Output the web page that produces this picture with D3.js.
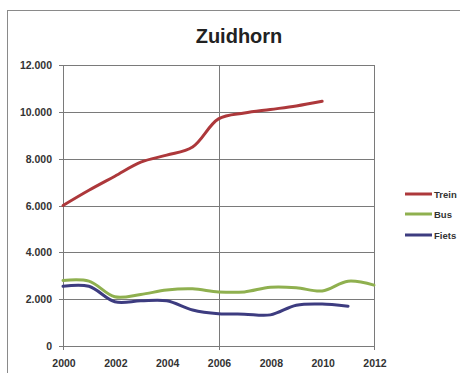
<!DOCTYPE html>
<html>
<head>
<meta charset="utf-8">
<script src="https://cdn.jsdelivr.net/npm/d3@7"></script>
<style>
  html, body { margin: 0; padding: 0; background: #fff; }
  svg { display: block; font-family: "Liberation Sans", Arial, sans-serif; }
</style>
</head>
<body>
<svg id="chart" width="460" height="373"></svg>
<script>
// Passenger numbers for Zuidhorn per year
const years = [2000, 2001, 2002, 2003, 2004, 2005, 2006, 2007, 2008, 2009, 2010, 2011, 2012];
const trein = [6000, 6650, 7250, 7850, 8150, 8500, 9700, 9950, 10100, 10250, 10450];
const bus   = [2800, 2770, 2100, 2200, 2390, 2440, 2310, 2310, 2510, 2490, 2350, 2770, 2600];
const fiets = [2550, 2550, 1890, 1930, 1930, 1540, 1380, 1360, 1330, 1740, 1790, 1700];
const yTicks = [0, 2000, 4000, 6000, 8000, 10000, 12000];
const xTicks = [2000, 2002, 2004, 2006, 2008, 2010, 2012];
const seriesNames = ["Trein", "Bus", "Fiets"];
const seriesColors = ["#ad383b", "#8fb04f", "#3d3c80"];
const seriesValues = [trein, bus, fiets];

const svg = d3.select("#chart");
const m = { left: 63, right: 374, top: 65, bottom: 346 };

// chart frame
svg.append("rect")
  .attr("x", 7.5).attr("y", 10.5).attr("width", 470).attr("height", 380)
  .attr("fill", "#fff").attr("stroke", "#8a8a8a").attr("stroke-width", 1);

const x = d3.scaleLinear().domain([2000, 2012]).range([m.left, m.right]);
const y = d3.scaleLinear().domain([0, 12000]).range([m.bottom, m.top]);

// horizontal gridlines
svg.append("g").selectAll("line").data(yTicks).join("line")
  .attr("x1", m.left - 4).attr("x2", m.right)
  .attr("y1", d => Math.round(y(d)) + 0.5).attr("y2", d => Math.round(y(d)) + 0.5)
  .attr("stroke", "#7a7a7a").attr("stroke-width", 1);

// vertical line at the middle year
svg.append("line")
  .attr("x1", Math.round(x(2006)) + 0.5).attr("x2", Math.round(x(2006)) + 0.5)
  .attr("y1", m.top).attr("y2", m.bottom + 4)
  .attr("stroke", "#7a7a7a").attr("stroke-width", 1);

// plot border
svg.append("rect")
  .attr("x", m.left + 0.5).attr("y", m.top + 0.5)
  .attr("width", m.right - m.left).attr("height", m.bottom - m.top)
  .attr("fill", "none").attr("stroke", "#7a7a7a").attr("stroke-width", 1);

// small ticks below the x axis
svg.append("g").selectAll("line").data([2000, 2006, 2012]).join("line")
  .attr("x1", d => Math.round(x(d)) + 0.5).attr("x2", d => Math.round(x(d)) + 0.5)
  .attr("y1", m.bottom).attr("y2", m.bottom + 4)
  .attr("stroke", "#7a7a7a");

// y tick labels
const fmt = d => d === 0 ? "0" : d3.format(",")(d).replace(/,/g, ".");
svg.append("g").selectAll("text").data(yTicks).join("text")
  .attr("x", 52).attr("y", d => y(d) + 4)
  .attr("text-anchor", "end")
  .attr("font-size", 10.5).attr("font-weight", "bold").attr("fill", "#333")
  .text(fmt);

// x tick labels
svg.append("g").selectAll("text").data(xTicks).join("text")
  .attr("x", d => x(d) + 1).attr("y", 367)
  .attr("text-anchor", "middle")
  .attr("font-size", 10.5).attr("font-weight", "bold").attr("fill", "#333")
  .text(d => d);

// title
svg.append("text")
  .attr("x", 239).attr("y", 43)
  .attr("text-anchor", "middle")
  .attr("font-size", 20).attr("font-weight", "bold").attr("fill", "#222")
  .text("Zuidhorn");

// series lines
const line = d3.line()
  .x((d, i) => x(years[i]))
  .y(d => y(d))
  .curve(d3.curveCatmullRom.alpha(0.5));

svg.append("g").selectAll("path").data(seriesValues).join("path")
  .attr("d", d => line(d))
  .attr("fill", "none")
  .attr("stroke", (d, i) => seriesColors[i])
  .attr("stroke-width", 3)
  .attr("stroke-linejoin", "round")
  .attr("stroke-linecap", "round");

// legend
const legendY = [194, 214, 235];
const lg = svg.append("g").selectAll("g").data(seriesNames).join("g")
  .attr("transform", (d, i) => `translate(0,${legendY[i]})`);
lg.append("line")
  .attr("x1", 405).attr("x2", 432).attr("y1", 0).attr("y2", 0)
  .attr("stroke", (d, i) => seriesColors[i]).attr("stroke-width", 3);
lg.append("text")
  .attr("x", 434).attr("y", 3.5)
  .attr("font-size", 9.5).attr("font-weight", "bold").attr("fill", "#333")
  .text(d => d);
</script>
</body>
</html>
